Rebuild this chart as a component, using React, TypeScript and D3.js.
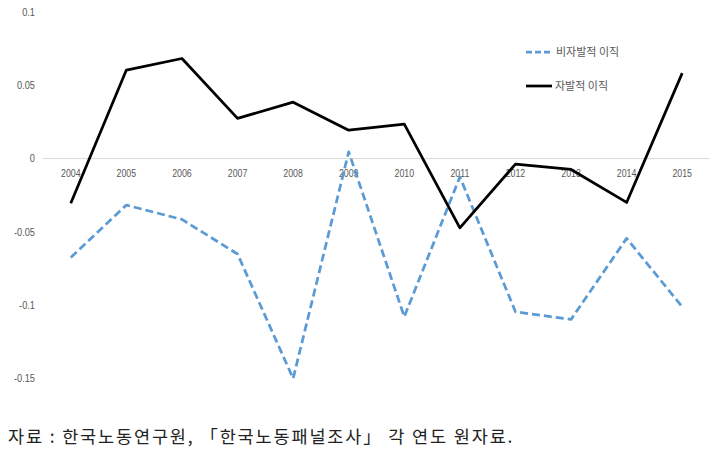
import React from "react";
import * as d3 from "d3";

const years = ["2004","2005","2006","2007","2008","2009","2010","2011","2012","2013","2014","2015"];
const involuntary = [-0.0674,-0.0317,-0.0415,-0.0651,-0.150,0.0046,-0.1079,-0.0125,-0.1045,-0.1097,-0.0544,-0.1011];
const voluntary = [-0.0304,0.0604,0.0683,0.0274,0.0385,0.0194,0.0235,-0.0472,-0.0038,-0.0074,-0.0299,0.0583];
const yTicks = [0.1,0.05,0,-0.05,-0.1,-0.15];
const yTickLabels = ["0.1","0.05","0","-0.05","-0.1","-0.15"];
const seriesNames = ["비자발적 이직","자발적 이직"];
const footer = "자료 : 한국노동연구원, 「한국노동패널조사」 각 연도 원자료.";

export default function App() {
  const W = 725, H = 458;
  const x = d3.scaleBand<string>().domain(years).range([43, 710]);
  const y = d3.scaleLinear().domain([-0.15, 0.1]).range([378.5, 12]);
  const cx = (d: string) => (x(d) as number) + x.bandwidth() / 2;
  const line = d3.line<number>().x((_, i) => cx(years[i])).y((v) => y(v));
  const tickFont = "'Liberation Sans', Arial, sans-serif";
  const sx = 0.84;
  return (
    <svg width={W} height={H} style={{ position: "absolute", left: 0, top: 0, background: "#fff" }}>
      <line x1={43} x2={710} y1={y(0)} y2={y(0)} stroke="#d9d9d9" strokeWidth={1} />
      {yTicks.map((t, i) => (
        <g key={t} transform={`translate(35,${y(t)}) scale(${sx},1)`}>
          <text x={0} y={0} dy="0.35em" textAnchor="end" fontSize={11} fill="#595959" fontFamily={tickFont}>
            {yTickLabels[i]}
          </text>
        </g>
      ))}
      {years.map((yr) => (
        <g key={yr} transform={`translate(${cx(yr)},${y(0) + 18}) scale(${sx},1)`}>
          <text x={0} y={0} textAnchor="middle" fontSize={10.5} fill="#595959" fontFamily={tickFont}>
            {yr}
          </text>
        </g>
      ))}
      <path d={line(involuntary) || ""} fill="none" stroke="#5B9BD5" strokeWidth={2.75} strokeDasharray="8,4" strokeLinejoin="round" />
      <path d={line(voluntary) || ""} fill="none" stroke="#000" strokeWidth={2.75} strokeLinejoin="round" />
      <line x1={526} x2={551} y1={52} y2={52} stroke="#5B9BD5" strokeWidth={2.75} strokeDasharray="6,3" />
      <text x={556} y={52} dy="0.35em" fontSize={11} fill="#595959" fontFamily="'Noto Sans CJK KR', sans-serif">{seriesNames[0]}</text>
      <line x1={526} x2={552} y1={86} y2={86} stroke="#000" strokeWidth={2.75} />
      <text x={555} y={86} dy="0.35em" fontSize={11} fill="#595959" fontFamily="'Noto Sans CJK KR', sans-serif">{seriesNames[1]}</text>
      <text x={8} y={443} fontSize={17.5} fill="#222" letterSpacing={1.85} fontFamily="'Noto Sans CJK KR', sans-serif">{footer}</text>
    </svg>
  );
}
